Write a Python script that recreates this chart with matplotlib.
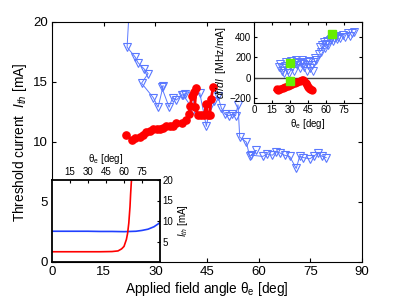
import matplotlib
matplotlib.use("Agg")
import matplotlib.pyplot as plt

plt.rcParams['font.family'] = ['Liberation Sans', 'DejaVu Sans']
plt.rcParams['mathtext.fontset'] = 'custom'
plt.rcParams['mathtext.it'] = 'Liberation Sans:italic'
plt.rcParams['mathtext.rm'] = 'Liberation Sans'

# ---- main panel data ----
theta_blue = [22.6, 21.8, 24.1, 25.0, 26.7, 27.9, 26.0, 29.4, 30.8, 32.3, 31.8, 34.0, 35.0,
              36.1, 37.6, 38.6, 38.1, 41.0, 41.0, 42.9, 44.8, 46.0, 47.0, 48.2, 49.2, 50.3,
              51.3, 52.3, 53.3, 54.0, 54.5, 56.4, 57.4, 59.3, 57.9, 61.2, 62.5, 64.0, 65.0,
              66.1, 67.5, 69.0, 70.9, 71.9, 73.0, 74.8, 76.0, 77.2, 78.4, 79.6]
ith_blue = [22.0, 17.9, 17.1, 16.6, 16.1, 15.7, 14.9, 13.7, 12.9, 14.7, 14.6, 12.9, 13.7,
            13.5, 13.9, 14.0, 13.9, 12.7, 13.8, 14.1, 11.3, 13.0, 13.4, 13.8, 12.8, 12.3,
            12.2, 12.3, 12.2, 13.1, 10.4, 10.0, 8.8, 9.3, 8.9, 8.8, 9.0, 8.9, 9.2,
            9.1, 8.9, 8.8, 7.8, 8.8, 8.7, 8.6, 8.8, 9.1, 8.8, 8.7]

theta_red = [21.6, 23.1, 24.0, 25.5, 26.5, 27.4, 28.5, 29.4, 30.5, 31.3, 32.3, 33.2, 34.2,
             35.2, 36.1, 37.6, 39.0, 39.7, 40.2, 40.5, 41.2, 41.9, 41.4, 42.4, 43.4, 44.2,
             44.8, 45.2, 45.8, 46.2, 46.8]
ith_red = [10.6, 10.2, 10.3, 10.4, 10.6, 10.8, 10.9, 11.1, 11.1, 11.1, 11.2, 11.3, 11.3,
           11.3, 11.6, 11.6, 11.8, 12.3, 13.0, 13.8, 14.2, 14.5, 12.9, 12.25, 12.25, 12.25,
           13.2, 12.25, 12.25, 13.6, 14.6]

# ---- top-right inset (df/dI) ----
theta_blue_in = [21, 22, 23, 24, 25, 26, 27, 28, 29, 30, 31, 32, 33, 34, 35, 36, 37, 38, 39,
                 40, 41, 42, 43, 44, 45, 46, 47, 48, 49, 50, 51, 52, 54, 55, 56, 57, 58, 59,
                 60, 61, 62, 63, 64, 65, 66, 67, 68, 69, 70, 72, 74, 76, 78, 80, 82, 83]
dfdi_blue = [100, 130, 60, 90, 40, 110, 150, 70, 40, 120, 160, 100, 60, 140, 170, 120, 150,
             90, 140, 170, 130, 100, 150, 60, 120, 160, 90, 120, 60, 150, 190, 170, 230, 300,
             250, 320, 350, 290, 330, 360, 320, 370, 380, 400, 360, 390, 410, 380, 400, 390,
             420, 400, 430, 410, 430, 440]
theta_red_in = [19, 20, 22, 24, 26, 28, 30, 32, 34, 36, 38, 40, 41, 42, 43, 44, 45, 46, 47, 48]
dfdi_red = [-115, -120, -110, -100, -90, -80, -70, -60, -50, -40, -30, -25, -22, -30, -50,
            -70, -90, -105, -115, -120]
theta_green = [30, 30, 65]
dfdi_green = [146, -33, 422]

# ---- bottom-left inset (theory) ----
theta_th = [0, 10, 20, 30, 40, 50, 55, 58, 60, 62, 63, 64, 65, 65.5, 66, 66.5]
ith_th_red = [2.5, 2.5, 2.5, 2.5, 2.5, 2.55, 2.7, 3.2, 3.8, 5.5, 7.0, 9.5, 13.5, 16.5, 19.0, 21.0]
theta_th2 = [0, 10, 20, 30, 40, 50, 60, 65, 70, 75, 80, 85, 90]
ith_th_blue = [7.5, 7.5, 7.5, 7.5, 7.45, 7.45, 7.4, 7.45, 7.5, 7.7, 8.0, 8.6, 9.6]

BLUE = '#5a78ff'
RED = '#ff0000'
GREEN = '#66ee00'

fig = plt.figure(figsize=(3.99, 3.0), dpi=100)

ax = fig.add_axes([52/399, 38/300, 310/399, 240/300])
ax.plot(theta_blue, ith_blue, color=BLUE, lw=0.7, marker='v', ms=6, mfc='none',
        mec=BLUE, mew=0.8)
ax.plot(theta_red, ith_red, color=RED, lw=2.0, marker='o', ms=5.2, mfc=RED, mec=RED)
ax.set_xlim(0, 90)
ax.set_ylim(0, 20)
ax.set_xticks([0, 15, 30, 45, 60, 75, 90])
ax.set_yticks([0, 5, 10, 15, 20])
ax.tick_params(direction='in', top=True, right=True, labelsize=9.5, length=3, pad=3)
ax.set_xlabel(r'Applied field angle $\mathrm{\theta}_{\mathrm{e}}$ [deg]', fontsize=9.8, labelpad=1)
ax.set_ylabel(r'Threshold current  $I_{th}$ [mA]', fontsize=9.8, labelpad=3)

# top-right inset
ax1 = fig.add_axes([254/399, (300-102.7)/300, 108/399, 81/300])
ax1.axhline(0, color='#444444', lw=1.0)
ax1.plot(theta_blue_in, dfdi_blue, ls='none', marker='v', ms=5.5, mfc='none', mec=BLUE, mew=0.7)
ax1.plot(theta_red_in, dfdi_red, color=RED, lw=4, marker='o', ms=5, mfc=RED, mec=RED)
ax1.plot(theta_green, dfdi_green, ls='none', marker='s', ms=6, color=GREEN)
ax1.set_xlim(0, 90)
ax1.set_ylim(-245, 545)
ax1.set_xticks([0, 15, 30, 45, 60, 75])
ax1.set_yticks([-200, 0, 200, 400])
ax1.tick_params(direction='in', top=True, right=True, labelsize=7, length=2, pad=2)
ax1.set_xlabel(r'$\mathrm{\theta}_{\mathrm{e}}$ [deg]', fontsize=7, labelpad=1)
ax1.set_ylabel(r'$df/dI$  [MHz/mA]', fontsize=7.5, labelpad=1)

# bottom-left inset
ax2 = fig.add_axes([52/399, 38/300, 108/399, 82/300])
ax2.plot(theta_th2, ith_th_blue, color='#2040ff', lw=1.2)
ax2.plot(theta_th, ith_th_red, color=RED, lw=1.2)
ax2.set_xlim(0, 90)
ax2.set_ylim(0, 20)
ax2.xaxis.tick_top()
ax2.xaxis.set_label_position('top')
ax2.yaxis.tick_right()
ax2.yaxis.set_label_position('right')
ax2.set_xticks([15, 30, 45, 60, 75])
ax2.set_yticks([5, 10, 15, 20])
ax2.tick_params(direction='in', labelsize=7, length=2, pad=2)
for s in ax2.spines.values():
    s.set_linewidth(1.3)
ax2.set_xlabel(r'$\mathrm{\theta}_{\mathrm{e}}$ [deg]', fontsize=7, labelpad=4)
ax2.set_ylabel(r'$I_{th}$ [mA]', fontsize=7, labelpad=2)

fig.savefig('out.png', dpi=100)
